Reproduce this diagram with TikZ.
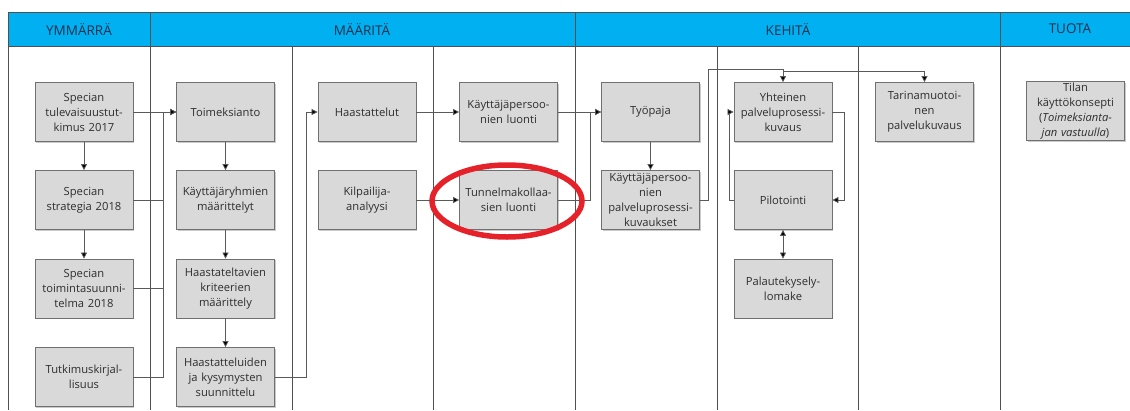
\documentclass[tikz,border=0pt]{standalone}
\usepackage{fontspec}
\setmainfont{Open Sans}
\usetikzlibrary{arrows.meta,shadows}
\definecolor{headblue}{HTML}{00B0F0}
\definecolor{headtext}{HTML}{1F3050}
\definecolor{boxfill}{HTML}{D9D9D9}
\definecolor{boxline}{HTML}{707070}
\definecolor{boxtext}{HTML}{2E2E2E}
\definecolor{gridline}{HTML}{505050}
\definecolor{connline}{HTML}{5A5A5A}
\definecolor{ringred}{HTML}{E52229}
\tikzset{
  procbox/.style={rectangle, draw=boxline, line width=0.8pt, fill=boxfill,
    minimum width=98pt, minimum height=59pt, text width=97pt, align=center,
    inner sep=0pt, text=boxtext, font=\fontsize{11.2}{15}\selectfont,
    drop shadow={shadow xshift=1.2pt, shadow yshift=-1.2pt, opacity=0.35, fill=black!60}},
  headlabel/.style={text=headtext, font=\fontsize{13.5}{16}\selectfont},
  grid/.style={draw=gridline, line width=0.9pt},
  conn/.style={draw=connline, line width=0.75pt, -{Triangle[length=6pt,width=6pt,fill=black]}},
  dconn/.style={draw=connline, line width=0.75pt, {Triangle[length=6pt,width=6pt,fill=black]}-{Triangle[length=6pt,width=6pt,fill=black]}},
}
\begin{document}
\begin{tikzpicture}[x=1pt,y=-1pt]
\useasboundingbox (0,0) rectangle (1130,410);
% header
\fill[headblue] (8,12) rectangle (1130,46);
\draw[grid] (8,12) -- (1130,12);
\draw[grid] (8,46) -- (1130,46);
\foreach \x in {150,575,1000} \draw[grid] (\x,12) -- (\x,46);
\draw[grid] (8,12) -- (8,410);
\foreach \x in {150,292,433,575,717,858,1000} \draw[grid] (\x,46) -- (\x,410);
\node[headlabel] (hy) at (79,29) {YMMÄRRÄ};
\node[headlabel] (hm) at (362,29) {MÄÄRITÄ};
\node[headlabel] (hkh) at (788,29) {KEHITÄ};
\node[headlabel] (htu) at (1070,29) {TUOTA};
% column 1
\node[procbox] (t17) at (84,112) {Specian\\tulevaisuustut-\\kimus 2017};
\node[procbox] (st) at (84,200) {Specian\\strategia 2018};
\node[procbox] (ts) at (84,288.5) {Specian\\toimintasuunni-\\telma 2018};
\node[procbox] (tk) at (84,377) {Tutkimuskirjal-\\lisuus};
% column 2
\node[procbox] (tm) at (225.5,112) {Toimeksianto};
\node[procbox] (kr) at (225.5,200) {Käyttäjäryhmien\\määrittelyt};
\node[procbox] (hc) at (225.5,288.5) {Haastateltavien\\kriteerien\\määrittely};
\node[procbox] (hs) at (225.5,377) {Haastatteluiden\\ja kysymysten\\suunnittelu};
% column 3
\node[procbox] (ha) at (367,112) {Haastattelut};
\node[procbox] (ka) at (367,200) {Kilpailija-\\analyysi};
% column 4
\node[procbox] (kl) at (508.5,112) {Käyttäjäpersoo-\\nien luonti};
\node[procbox] (tu) at (508.5,200) {Tunnelmakollaa-\\sien luonti};
% column 5
\node[procbox] (ty) at (650.5,112) {Työpaja};
\node[procbox] (cpk) at (650.5,200) {Käyttäjäpersoo-\\nien\\palveluprosessi-\\kuvaukset};
% column 6
\node[procbox] (yh) at (783,112) {Yhteinen\\palveluprosessi-\\kuvaus};
\node[procbox] (pi) at (783,200) {Pilotointi};
\node[procbox] (pa) at (783,288.5) {Palautekysely-\\lomake};
% column 7
\node[procbox] (tar) at (924.5,112) {Tarinamuotoi-\\nen\\palvelukuvaus};
% column 8
\node[procbox] (ti) at (1075.5,111) {Tilan\\käyttökonsepti\\(\textit{Toimeksianta-}\\\textit{jan vastuulla})};
% connectors
\draw[conn] (t17) -- (st);
\draw[conn] (st) -- (ts);
\draw[conn] (t17.east) -- (tm.west);
\draw[conn] (st.east) -- ++(30,0) |- (tm.west);
\draw[conn] (ts.east) -- ++(30,0) |- (tm.west);
\draw[conn] (tk.east) -- ++(30,0) |- (tm.west);
\draw[conn] (tm) -- (kr);
\draw[conn] (kr) -- (hc);
\draw[conn] (hc) -- (hs);
\draw[conn] (hs.east) -- ++(31,0) |- (ha.west);
\draw[conn] (ha) -- (kl);
\draw[conn] (ka) -- (tu);
\draw[conn] (kl) -- (ty);
\draw[conn] (tu.east) -- ++(32,0) |- (ty.west);
\draw[conn] (ty) -- (cpk);
\draw[conn] (cpk.east) -- ++(8,0) -- ++(0,-131) -| (yh.north);
\draw[conn] ([yshift=11pt]yh.north) -| (tar.north);
\draw[conn] (yh.east) -- ++(12,0) |- (pi.east);
\draw[conn] (pi.west) -- ++(-4,0) |- (yh.west);
\draw[dconn] (pi) -- (pa);
% highlight ring
\draw[ringred, line width=5.5pt] (507,201) ellipse [x radius=75, y radius=36];
\end{tikzpicture}
\end{document}
